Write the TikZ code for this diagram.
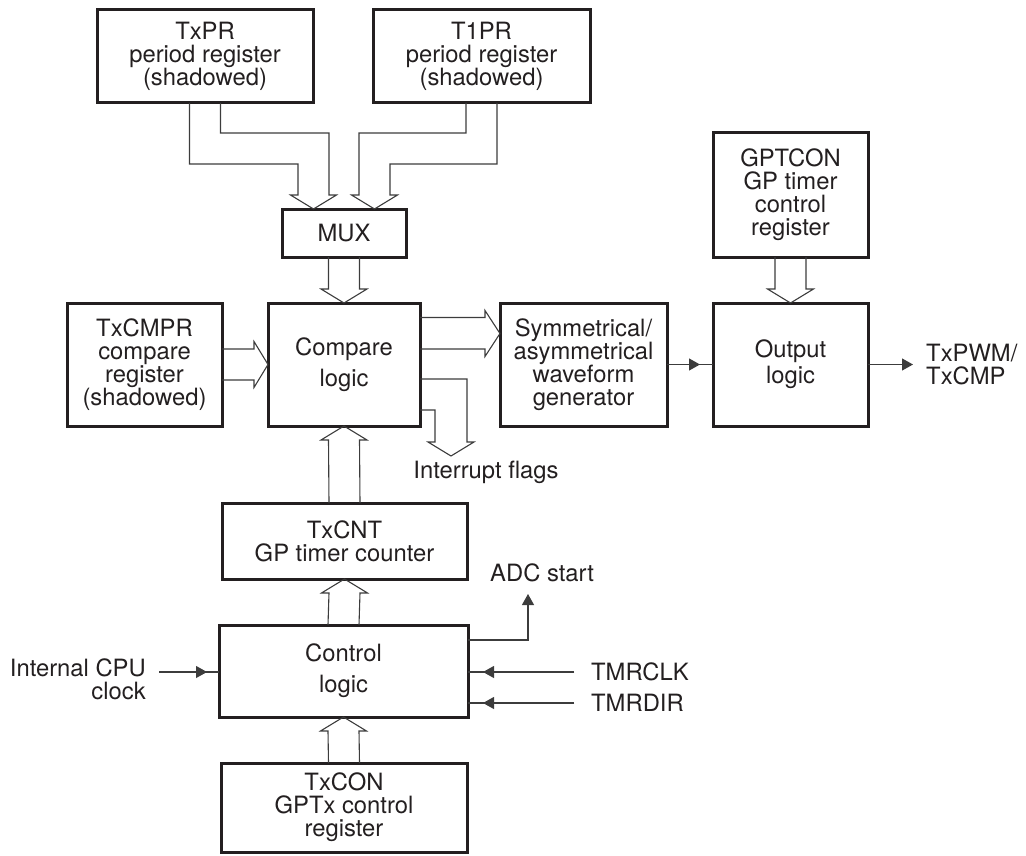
\documentclass[tikz,border=0pt]{standalone}
\usepackage{fontspec}
\setmainfont{TeX Gyre Heros}
\usetikzlibrary{arrows.meta,calc}
\definecolor{ink}{HTML}{231F20}
\definecolor{wire}{HTML}{3C3C3C}
\newcommand\hollowdown[2]{%
  \draw[hol] ($(#1.south)+(-15.5,0)$) -- ($(#2.north)+(-15.5,-14)$) -- ($(#2.north)+(-23,-14)$) -- (#2.north)
    -- ($(#2.north)+(23,-14)$) -- ($(#2.north)+(15.5,-14)$) -- ($(#1.south)+(15.5,0)$);}
\newcommand\hollowup[2]{%
  \draw[hol] ($(#1.north)+(-15.5,0)$) -- ($(#2.south)+(-15.5,14)$) -- ($(#2.south)+(-23,14)$) -- (#2.south)
    -- ($(#2.south)+(23,14)$) -- ($(#2.south)+(15.5,14)$) -- ($(#1.north)+(15.5,0)$);}
\begin{document}
\begin{tikzpicture}[x=1pt,y=-1pt,
  txt/.style={font=\fontsize{23.8}{23}\selectfont, text=ink},
  wide/.style={font=\fontsize{23.8}{31}\selectfont},
  mid/.style={font=\fontsize{23.8}{26}\selectfont},
  blk/.style={draw=ink, line width=3pt, align=center, inner sep=0pt, outer sep=0pt, txt},
  lbl/.style={inner sep=0pt, txt},
  hol/.style={draw=wire, line width=1.1pt, line join=miter},
  sig/.style={draw=wire, line width=1.1pt},
  tip/.style={sig, -{Triangle[length=11pt,width=12pt]}},
]
\useasboundingbox (0,0) rectangle (1026,856);

% blocks
\node[blk, minimum width=216pt, minimum height=93pt] (txpr) at (205,56.5) {TxPR\\period register\\(shadowed)};
\node[blk, minimum width=217pt, minimum height=93pt] (t1pr) at (481.5,56.5) {T1PR\\period register\\(shadowed)};
\node[blk, minimum width=124pt, minimum height=48pt] (mux) at (344,233) {MUX};
\node[blk, minimum width=155pt, minimum height=124pt] (gptcon) at (790.5,195) {GPTCON\\GP timer\\control\\register};
\node[blk, minimum width=155pt, minimum height=123pt] (txcmpr) at (144.5,364.5) {TxCMPR\\compare\\register\\(shadowed)};
\node[blk, wide, minimum width=152pt, minimum height=123pt] (cmp) at (344,364.5) {Compare\\logic};
\node[blk, minimum width=167pt, minimum height=123pt] (sym) at (583.5,364.5) {Symmetrical/\\asymmetrical\\waveform\\generator};
\node[blk, mid, minimum width=155pt, minimum height=123pt] (out) at (790.5,364.5) {Output\\logic};
\node[blk, minimum width=245pt, minimum height=76pt] (cnt) at (344.5,541) {TxCNT\\GP timer counter};
\node[blk, wide, minimum width=249pt, minimum height=92pt] (ctl) at (343.5,671) {Control\\logic};
\node[blk, minimum width=246pt, minimum height=89pt] (con) at (344,807.5) {TxCON\\GPTx control\\register};

% free ends
\coordinate (L) at ($(mux.north)+(-30.5,0)$);
\coordinate (R) at ($(mux.north)+(30.5,0)$);
\coordinate (irq) at (451,456);
\coordinate (pwm) at (913,364.5);
\coordinate (clk) at (159,672);
\coordinate (adc) at (528,594);
\coordinate (tclk) at (574,672);
\coordinate (tdir) at (574,703);

% labels
\node[lbl] (irqlbl) at (486,472) {Interrupt flags};
\node[lbl, anchor=west, align=left] (pwmlbl) at (926,365) {TxPWM/\\TxCMP};
\node[lbl, anchor=east, align=right] (clklbl) at (146,679) {Internal CPU\\clock};
\node[lbl, anchor=west] (adclbl) at (490,573) {ADC start};
\node[lbl, anchor=west] (tclklbl) at (591,672) {TMRCLK};
\node[lbl, anchor=west] (tdirlbl) at (591,703) {TMRDIR};

% hollow (bus) arrows into MUX
\draw[hol] ($(txpr.south)+(-15.5,0)$) |- ($(L)+(-15.5,-45)$) -- ($(L)+(-15.5,-14)$) -- ($(L)+(-23,-14)$) -- (L)
  -- ($(L)+(23,-14)$) -- ($(L)+(15.5,-14)$) -- ($(L)+(15.5,-76)$) -| ($(txpr.south)+(15.5,0)$);
\draw[hol] ($(t1pr.south)+(-15.5,0)$) |- ($(R)+(-15.5,-76)$) -- ($(R)+(-15.5,-14)$) -- ($(R)+(-23,-14)$) -- (R)
  -- ($(R)+(23,-14)$) -- ($(R)+(15.5,-14)$) -- ($(R)+(15.5,-45)$) -| ($(t1pr.south)+(15.5,0)$);

% vertical hollow arrows
\hollowdown{mux}{cmp}
\hollowdown{gptcon}{out}
\hollowup{cnt}{cmp}
\hollowup{ctl}{cnt}
\hollowup{con}{ctl}

% TxCMPR -> Compare
\draw[hol] ($(txcmpr.east)+(0,-15.5)$) -- ($(cmp.west)+(-14,-15.5)$) -- ($(cmp.west)+(-14,-23)$) -- (cmp.west)
  -- ($(cmp.west)+(-14,23)$) -- ($(cmp.west)+(-14,15.5)$) -- ($(txcmpr.east)+(0,15.5)$);
% Compare -> Symmetrical
\draw[hol] ($(cmp.east)+(0,-47)$) -- ($(sym.west)+(-15,-47)$) -- ($(sym.west)+(-15,-54)$) -- ($(sym.west)+(0,-31)$)
  -- ($(sym.west)+(-15,-8)$) -- ($(sym.west)+(-15,-15.5)$) -- ($(cmp.east)+(0,-15.5)$);
% Compare -> Interrupt flags
\draw[hol] ($(cmp.east)+(0,14.5)$) -| ($(irq)+(16,-14)$) -- ($(irq)+(23,-14)$) -- (irq)
  -- ($(irq)+(-23,-14)$) -- ($(irq)+(-16,-14)$) |- ($(cmp.east)+(0,45.5)$);

% thin signal arrows
\draw[sig] (sym.east) -- (out.west);
\draw[tip, shorten >=13pt] (sym.east) -- (out.west);
\draw[tip] (out.east) -- (pwm);
\draw[sig] (clk) -- (clk -| ctl.west);
\draw[tip, shorten >=12pt] (clk) -- (clk -| ctl.west);
\draw[tip] ($(ctl.east)+(0,-31)$) -| (adc);
\draw[sig] (tclk) -- (tclk -| ctl.east);
\draw[tip, shorten >=15pt] (tclk) -- (tclk -| ctl.east);
\draw[sig] (tdir) -- (tdir -| ctl.east);
\draw[tip, shorten >=15pt] (tdir) -- (tdir -| ctl.east);
\end{tikzpicture}
\end{document}
